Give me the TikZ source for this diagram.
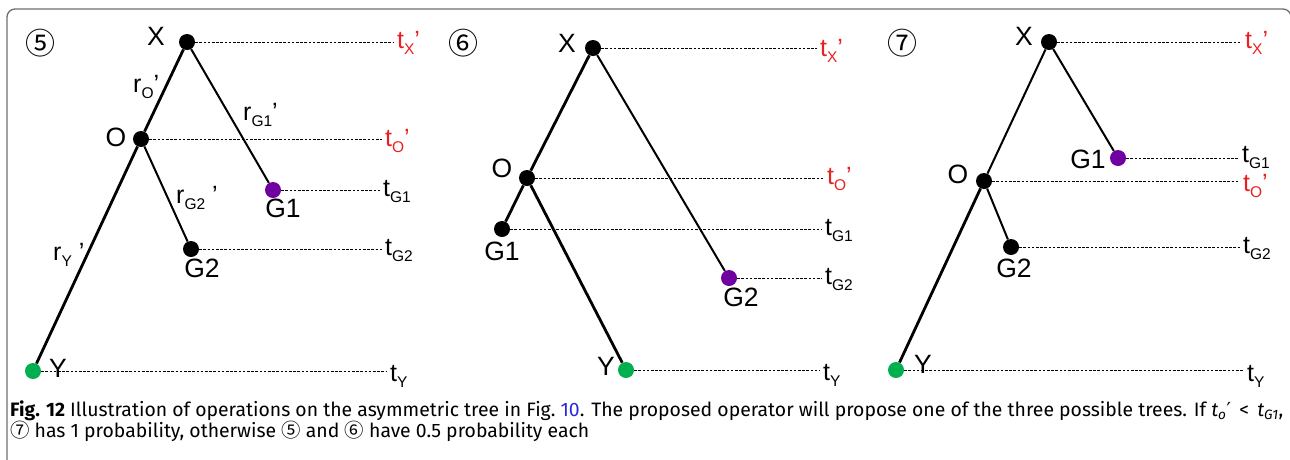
\documentclass[tikz,border=0pt]{standalone}
\usepackage{fontspec}
\setmainfont{Liberation Sans}
\newfontfamily\capfont{Fira Sans}
\newfontfamily\symfont{DejaVu Sans}
\newfontfamily\cjkfont{Noto Sans CJK JP}
\usetikzlibrary{positioning}

\definecolor{tred}{RGB}{232,32,32}
\definecolor{tpurple}{RGB}{112,0,160}
\definecolor{tgreen}{RGB}{0,176,80}
\definecolor{framegray}{RGB}{110,110,110}
\definecolor{linkblue}{RGB}{40,40,220}

\newcommand{\lbl}{\fontsize{25}{25}\selectfont}
\newcommand{\nlbl}{\fontsize{26.5}{26.5}\selectfont}
\newcommand{\tsub}[1]{\raisebox{-6pt}{\fontsize{15.5}{15.5}\selectfont #1}}
\newcommand{\circnum}[1]{{\cjkfont #1}}

\begin{document}
\begin{tikzpicture}[x=1pt,y=-1pt,
  dot/.style={circle,fill=black,inner sep=0pt,minimum size=16pt},
  pdot/.style={dot,fill=tpurple},
  gdot/.style={dot,fill=tgreen},
  branch/.style={line width=2.8pt},
  twig/.style={line width=2pt},
  tline/.style={line width=1pt,dash pattern=on 2.6pt off 1.6pt},
  vlab/.style={font=\nlbl,inner sep=0pt,anchor=base},
  rlab/.style={font=\lbl,inner sep=0pt,anchor=base west},
  tlab/.style={font=\lbl,inner sep=3pt,anchor=base west},
  panel/.style={font=\fontsize{30}{30}\selectfont\cjkfont,inner sep=0pt},
  capline/.style={anchor=base west,inner sep=0pt,font=\capfont\fontsize{19.4}{22}\selectfont}]
\useasboundingbox (0,0) rectangle (1290,459);
\draw[framegray,line width=1.3pt,rounded corners=8pt] (7,470) -- (7,9) -- (1291,9) -- (1291,40);

% panel 5
\node[panel] (n5) at (40,43) {⑤};
\node[dot]  (x5) at (187,42) {};
\node[dot]  (o5) at (141,139) {};
\node[pdot] (g15) at (273,190) {};
\node[dot]  (g25) at (191,249) {};
\node[gdot] (y5) at (33,371) {};
\draw[branch] (x5) -- (o5) -- (y5);
\draw[twig] (x5) -- (g15);
\draw[twig] (o5) -- (g25);
\node[vlab] (lx5) at (156,45) {X};
\node[vlab] (lo5) at (116,146) {O};
\node[vlab] (lg15) at (283,217) {G1};
\node[vlab] (lg25) at (202,277) {G2};
\node[vlab] (ly5) at (58,377) {Y};
\node[rlab] (ro5) at (133,92) {r\tsub{O}’};
\node[rlab] (rg15) at (243,120) {r\tsub{G1}’};
\node[rlab] (rg25) at (176,203) {r\tsub{G2} ’};
\node[rlab] (ry5) at (53,260) {r\tsub{Y} ’};
\node[tlab,text=tred] (tx5) at (394,48) {t\tsub{X}’};
\node[tlab,text=tred] (to5) at (382,146) {t\tsub{O}’};
\node[tlab] (tg15) at (380,196) {t\tsub{G1}};
\node[tlab] (tg25) at (382,255) {t\tsub{G2}};
\node[tlab] (ty5) at (387,381) {t\tsub{Y}};
\foreach \d/\t in {x5/tx5,o5/to5,g15/tg15,g25/tg25,y5/ty5}
  \draw[tline] (\d.east) -- (\d -| \t.west);

% panel 6
\node[panel] (n6) at (463,43) {⑥};
\node[dot]  (x6) at (593,48) {};
\node[dot]  (o6) at (527,178) {};
\node[dot]  (g16) at (502,229) {};
\node[pdot] (g26) at (729,278) {};
\node[gdot] (y6) at (626,370) {};
\draw[branch] (x6) -- (o6) -- (y6);
\draw[branch] (o6) -- (g16);
\draw[twig] (x6) -- (g26);
\node[vlab] (lx6) at (567,52) {X};
\node[vlab] (lo6) at (502,177) {O};
\node[vlab] (lg16) at (502,260) {G1};
\node[vlab] (lg26) at (741,306) {G2};
\node[vlab] (ly6) at (606,375) {Y};
\node[tlab,text=tred] (tx6) at (817,56) {t\tsub{X}’};
\node[tlab,text=tred] (to6) at (824,184) {t\tsub{O}’};
\node[tlab] (tg16) at (822,235) {t\tsub{G1}};
\node[tlab] (tg26) at (822,284) {t\tsub{G2}};
\node[tlab] (ty6) at (820,380) {t\tsub{Y}};
\foreach \d/\t in {x6/tx6,o6/to6,g16/tg16,g26/tg26,y6/ty6}
  \draw[tline] (\d.east) -- (\d -| \t.west);

% panel 7
\node[panel] (n7) at (902,43) {⑦};
\node[dot]  (x7) at (1049,42) {};
\node[pdot] (g17) at (1118,158) {};
\node[dot]  (o7) at (984,181) {};
\node[dot]  (g27) at (1011,247) {};
\node[gdot] (y7) at (896,370) {};
\draw[twig] (x7) -- (o7);
\draw[branch] (o7) -- (y7);
\draw[twig] (x7) -- (g17);
\draw[twig] (o7) -- (g27);
\node[vlab] (lx7) at (1024,45) {X};
\node[vlab] (lg17) at (1088,168) {G1};
\node[vlab] (lo7) at (958,183) {O};
\node[vlab] (lg27) at (1014,277) {G2};
\node[vlab] (ly7) at (923,373) {Y};
\node[tlab,text=tred] (tx7) at (1242,48) {t\tsub{X}’};
\node[tlab] (tg17) at (1239,162) {t\tsub{G1}};
\node[tlab,text=tred] (to7) at (1240,191) {t\tsub{O}’};
\node[tlab] (tg27) at (1240,253) {t\tsub{G2}};
\node[tlab] (ty7) at (1244,381) {t\tsub{Y}};
\foreach \d/\t in {x7/tx7,g17/tg17,o7/to7,g27/tg27,y7/ty7}
  \draw[tline] (\d.east) -- (\d -| \t.west);

% caption
\node[capline] (cap1) at (10,416)
  {\textbf{Fig. 12} Illustration of operations on the asymmetric tree in Fig.~\textcolor{linkblue}{10}. The proposed operator will propose one of the three possible trees. If \textit{t\textsubscript{o}}{\symfont ′} \,<\, \textit{t\textsubscript{G1}},};
\node[capline] (cap2) at (10,437)
  {\circnum{⑦} has 1 probability, otherwise \circnum{⑤} and \circnum{⑥} have 0.5 probability each};
\end{tikzpicture}
\end{document}
